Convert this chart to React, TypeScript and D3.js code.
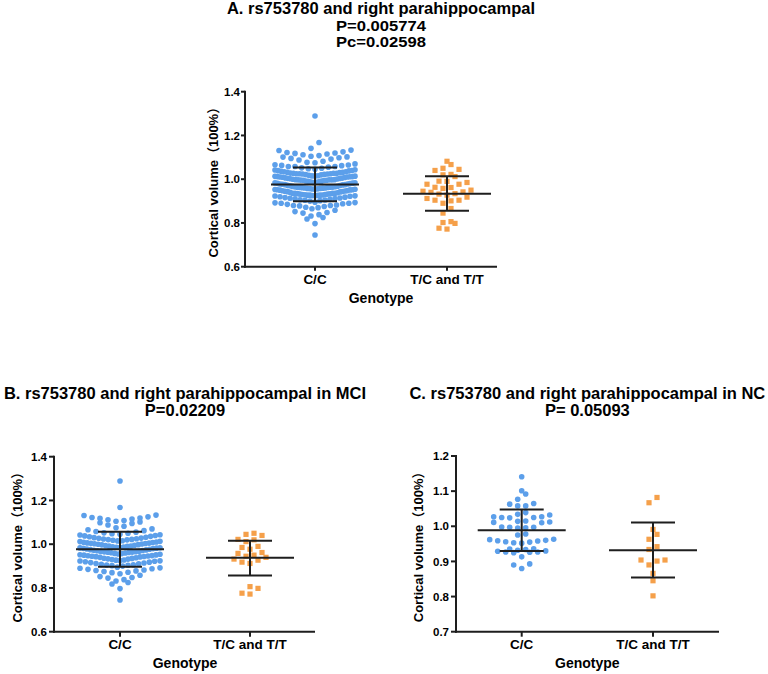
import React from 'react';
import * as d3 from 'd3';

// ---------- data ----------
const GENOTYPES = ['C/C', 'T/C and T/T'];

// MCI group, C/C genotype
const MCI_CC = [
  1.289, 1.168,
  1.133, 1.131, 1.125, 1.122, 1.12, 1.118, 1.115, 1.112, 1.108, 1.105, 1.102, 1.098, 1.095,
  1.088, 1.082, 1.075, 1.07, 1.066, 1.062,
  1.058, 1.055, 1.052, 1.05, 1.048, 1.045, 1.043, 1.042, 1.04, 1.038,
  1.036, 1.034, 1.032, 1.03, 1.028, 1.027, 1.025, 1.024, 1.022, 1.021, 1.02, 1.018,
  1.016, 1.015, 1.013, 1.012, 1.01, 1.009, 1.008, 1.006, 1.005, 1.004, 1.003, 1.002, 1.001, 1.0,
  0.998, 0.997, 0.995, 0.994, 0.992, 0.991, 0.99, 0.988, 0.987, 0.986, 0.985, 0.984, 0.983, 0.982, 0.981, 0.98,
  0.978, 0.977, 0.975, 0.974, 0.972, 0.971, 0.97, 0.968, 0.967, 0.966, 0.965, 0.964, 0.963, 0.962, 0.961, 0.96,
  0.958, 0.957, 0.955, 0.954, 0.952, 0.951, 0.95, 0.948, 0.947, 0.946, 0.945, 0.944, 0.943, 0.942, 0.94,
  0.938, 0.936, 0.935, 0.933, 0.932, 0.93, 0.928, 0.927, 0.925, 0.924, 0.923, 0.922, 0.92,
  0.918, 0.916, 0.914, 0.912, 0.91, 0.908, 0.906, 0.905, 0.904, 0.902, 0.9,
  0.895, 0.892, 0.89, 0.888, 0.885, 0.882, 0.88, 0.878, 0.875, 0.872, 0.87, 0.865,
  0.858, 0.852, 0.848, 0.845, 0.838, 0.832,
  0.825, 0.818, 0.797, 0.745,
];

// MCI group, T/C and T/T genotypes
const MCI_TC = [
  1.05, 1.045, 1.04, 1.022, 1.02, 1.012, 0.99, 0.985, 0.977, 0.962, 0.958,
  0.95, 0.945, 0.94, 0.932, 0.927, 0.918, 0.912, 0.806, 0.798, 0.776, 0.772,
];

// NC group, C/C genotype
const NC_CC = [
  1.141,
  1.101, 1.092,
  1.077,
  1.063, 1.058, 1.058, 1.065,
  1.039, 1.032, 1.027, 1.025, 1.024, 1.025, 1.027, 1.034,
  1.014, 1.012, 1.01, 1.011, 1.015,
  0.997, 0.996, 0.995, 0.997, 0.998,
  0.978, 0.975,
  0.962, 0.96, 0.958, 0.955, 0.952, 0.953, 0.956, 0.959, 0.963,
  0.936, 0.934, 0.93, 0.927, 0.926, 0.925, 0.927, 0.929, 0.932, 0.935,
  0.913,
  0.893, 0.89,
  0.88,
];

// NC group, T/C and T/T genotypes
const NC_TC = [
  1.082, 1.067, 0.991, 0.977, 0.963, 0.942, 0.934,
  0.904, 0.89, 0.901, 0.904, 0.866, 0.845, 0.802,
];

// whole sample = MCI + NC
const ALL_CC = [...MCI_CC, ...NC_CC];
const ALL_TC = [...MCI_TC, ...NC_TC];

// mean and mean±SD drawn in the figure
const MEAN_A = [0.976, 0.934];
const LOW_A = [0.899, 0.856];
const HIGH_A = [1.054, 1.013];
const MEAN_B = [0.977, 0.938];
const LOW_B = [0.897, 0.857];
const HIGH_B = [1.057, 1.016];
const MEAN_C = [0.989, 0.932];
const LOW_C = [0.93, 0.854];
const HIGH_C = [1.048, 1.011];

const TICKS_AB = [0.6, 0.8, 1.0, 1.2, 1.4];
const TICKS_C = [0.7, 0.8, 0.9, 1.0, 1.1, 1.2];

const TITLE_A = ['A. rs753780 and right parahippocampal', 'P=0.005774', 'Pc=0.02598'];
const TITLE_B = ['B. rs753780 and right parahippocampal in MCI', 'P=0.02209'];
const TITLE_C = ['C. rs753780 and right parahippocampal in NC', 'P= 0.05093'];

const Y_LABEL = 'Cortical volume（100%）';
const X_LABEL = 'Genotype';

// ---------- style ----------
const BLUE = '#5c9fea';
const ORANGE = '#f5a04a';
const INK = '#1e1e1e';
const FONT = '"Liberation Sans", Arial, "Noto Sans CJK SC", sans-serif';

type Pt = { v: number; dx: number };

// GraphPad-like row swarm: values grouped into rows, spread sideways
function swarm(values: number[], y: (v: number) => number, rowH: number, step: number, maxHalf: number): Pt[] {
  const sorted = [...values].sort((a, b) => a - b);
  const rows: number[][] = [];
  let cur: number[] = [];
  let startY = 0;
  for (const v of sorted) {
    const py = y(v);
    if (cur.length && Math.abs(py - startY) < rowH) cur.push(v);
    else {
      if (cur.length) rows.push(cur);
      cur = [v];
      startY = py;
    }
  }
  if (cur.length) rows.push(cur);
  const out: Pt[] = [];
  for (const row of rows) {
    const n = row.length;
    const sp = n > 1 ? Math.min(step, (2 * maxHalf) / (n - 1)) : 0;
    const offs = d3
      .range(n)
      .map((j) => (j - (n - 1) / 2) * sp)
      .sort((a, b) => Math.abs(a) - Math.abs(b) || a - b);
    row.forEach((v, i) => out.push({ v, dx: offs[i] }));
  }
  return out;
}

type TitleLine = { y: number; size: number; width?: number };

type PanelProps = {
  x0: number; x1: number; yTop: number; yBottom: number;
  domain: [number, number]; ticks: number[];
  cats: [number, number];
  groups: [number[], number[]];
  mean: number[]; low: number[]; high: number[];
  title: string[]; titleLines: TitleLine[];
  yLabelX: number; tickLen: number; tickGap: number;
  xTickY: number; xTitleY: number;
};

function Panel(p: PanelProps) {
  const y = d3.scaleLinear().domain(p.domain).range([p.yBottom, p.yTop]);
  const x = d3.scalePoint<string>().domain(GENOTYPES).range(p.cats);
  const mid = (p.cats[0] + p.cats[1]) / 2;
  const r = 2.8;
  const sq = 5.2;
  const pts0 = swarm(p.groups[0], y, 6.5, 8, 40);
  const pts1 = swarm(p.groups[1], y, 6.5, 8, 40);
  const cx0 = x(GENOTYPES[0])!;
  const cx1 = x(GENOTYPES[1])!;
  return (
    <g>
      {p.title.map((t, i) => {
        const L = p.titleLines[i];
        return (
          <text
            key={i}
            x={mid}
            y={L.y}
            textAnchor="middle"
            fontSize={L.size}
            fontWeight="bold"
            fontFamily={FONT}
            fill="#000"
            {...(L.width ? { textLength: L.width, lengthAdjust: 'spacingAndGlyphs' } : {})}
          >
            {t}
          </text>
        );
      })}
      {/* points */}
      {pts0.map((d, i) => (
        <circle key={'c' + i} cx={cx0 + d.dx} cy={y(d.v)} r={r} fill={BLUE} />
      ))}
      {pts1.map((d, i) => (
        <rect key={'s' + i} x={cx1 + d.dx - sq / 2} y={y(d.v) - sq / 2} width={sq} height={sq} fill={ORANGE} />
      ))}
      {/* mean ± SD */}
      {[cx0, cx1].map((cx, i) => (
        <g key={'e' + i} stroke={INK} strokeWidth={2}>
          <line x1={cx - 44} x2={cx + 44} y1={y(p.mean[i])} y2={y(p.mean[i])} />
          <line x1={cx - 22} x2={cx + 22} y1={y(p.high[i])} y2={y(p.high[i])} />
          <line x1={cx - 22} x2={cx + 22} y1={y(p.low[i])} y2={y(p.low[i])} />
          <line x1={cx} x2={cx} y1={y(p.high[i])} y2={y(p.low[i])} />
        </g>
      ))}
      {/* axes */}
      <g stroke={INK} strokeWidth={2} fill="none">
        <line x1={p.x0} x2={p.x0} y1={p.yTop - 1} y2={p.yBottom + 1} />
        <line x1={p.x0 - 1} x2={p.x1} y1={p.yBottom} y2={p.yBottom} />
        {p.ticks.map((t) => (
          <line key={t} x1={p.x0 - p.tickLen} x2={p.x0} y1={y(t)} y2={y(t)} />
        ))}
        {[cx0, cx1].map((cx, i) => (
          <line key={i} x1={cx} x2={cx} y1={p.yBottom} y2={p.yBottom + p.tickLen} />
        ))}
      </g>
      {p.ticks.map((t) => (
        <text key={'t' + t} x={p.x0 - p.tickGap} y={y(t)} dy="0.36em" textAnchor="end" fontSize={11.5} fontWeight="bold" fontFamily={FONT} fill="#000">
          {d3.format('.1f')(t)}
        </text>
      ))}
      {GENOTYPES.map((g) => (
        <text key={g} x={x(g)!} y={p.xTickY} textAnchor="middle" fontSize={13.5} fontWeight="bold" fontFamily={FONT} fill="#000">
          {g}
        </text>
      ))}
      <text x={mid} y={p.xTitleY} textAnchor="middle" fontSize={14} fontWeight="bold" fontFamily={FONT} fill="#000">
        {X_LABEL}
      </text>
      <text
        transform={`translate(${p.yLabelX},${(p.yTop + p.yBottom) / 2}) rotate(-90)`}
        dy="0.36em"
        textAnchor="middle"
        fontSize={13}
        fontWeight="bold"
        fontFamily={FONT}
        fill="#000"
      >
        {Y_LABEL}
      </text>
    </g>
  );
}

export default function App() {
  return (
    <svg width={768} height={674} style={{ position: 'absolute', left: 0, top: 0, background: '#fff' }}>
      <rect width={768} height={674} fill="#fff" />
      <Panel
        x0={245} x1={497} yTop={91.7} yBottom={266.7}
        domain={[0.6, 1.4]} ticks={TICKS_AB} cats={[315, 447]}
        groups={[ALL_CC, ALL_TC]} mean={MEAN_A} low={LOW_A} high={HIGH_A}
        title={TITLE_A}
        titleLines={[
          { y: 13.5, size: 16.5 },
          { y: 31.2, size: 14.8, width: 90 },
          { y: 46.8, size: 14.8, width: 90 },
        ]}
        yLabelX={213} tickLen={4} tickGap={5}
        xTickY={284} xTitleY={302.5}
      />
      <Panel
        x0={54} x1={315} yTop={456.7} yBottom={631.7}
        domain={[0.6, 1.4]} ticks={TICKS_AB} cats={[120, 250]}
        groups={[MCI_CC, MCI_TC]} mean={MEAN_B} low={LOW_B} high={HIGH_B}
        title={TITLE_B}
        titleLines={[{ y: 399, size: 16.5 }, { y: 416, size: 16.5 }]}
        yLabelX={17.5} tickLen={5} tickGap={7}
        xTickY={649} xTitleY={668}
      />
      <Panel
        x0={456} x1={719} yTop={456} yBottom={631.7}
        domain={[0.7, 1.2]} ticks={TICKS_C} cats={[521.7, 653]}
        groups={[NC_CC, NC_TC]} mean={MEAN_C} low={LOW_C} high={HIGH_C}
        title={TITLE_C}
        titleLines={[{ y: 399, size: 16.5 }, { y: 416, size: 16.5 }]}
        yLabelX={418.3} tickLen={5} tickGap={7}
        xTickY={649} xTitleY={668}
      />
    </svg>
  );
}
